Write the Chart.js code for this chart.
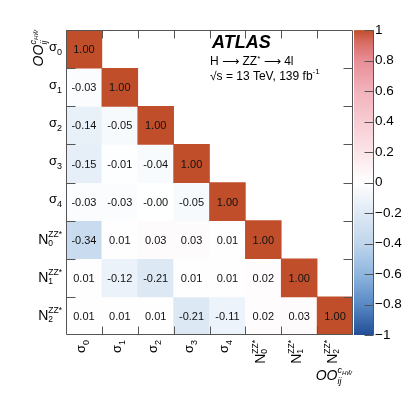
<!DOCTYPE html>
<html>
<head>
<meta charset="utf-8">
<script src="https://cdn.jsdelivr.net/npm/chart.js@4.4.1/dist/chart.umd.min.js"></script>
<style>
  body { margin: 0; background: #fff; }
</style>
</head>
<body>
<canvas id="chart" width="415" height="399"></canvas>
<script>
// parameter labels (same order on both axes, rows top to bottom)
var labelMain = ['σ', 'σ', 'σ', 'σ', 'σ', 'N', 'N', 'N'];
var labelSub = ['0', '1', '2', '3', '4', '0', '1', '2'];
var labelSup = ['', '', '', '', '', 'ZZ*', 'ZZ*', 'ZZ*'];

// lower triangle of the correlation matrix
var rowSigma0 = [1.00];
var rowSigma1 = [-0.03, 1.00];
var rowSigma2 = [-0.14, -0.05, 1.00];
var rowSigma3 = [-0.15, -0.01, -0.04, 1.00];
var rowSigma4 = [-0.03, -0.03, -0.004, -0.05, 1.00];
var rowN0 = [-0.34, 0.01, 0.03, 0.03, 0.01, 1.00];
var rowN1 = [0.01, -0.12, -0.21, 0.01, 0.01, 0.02, 1.00];
var rowN2 = [0.01, 0.01, 0.01, -0.21, -0.11, 0.02, 0.03, 1.00];
var rows = [rowSigma0, rowSigma1, rowSigma2, rowSigma3, rowSigma4, rowN0, rowN1, rowN2];

var FONT = "'Liberation Sans', Arial, Helvetica, sans-serif";

var stops = [
    [-1, [34, 78, 150]], [-0.8, [88, 137, 197]], [-0.6, [143, 182, 222]],
    [-0.4, [192, 214, 236]], [-0.2, [222, 233, 245]], [0, [255, 255, 255]],
    [0.2, [251, 228, 232]], [0.4, [247, 204, 211]], [0.6, [242, 178, 187]],
    [0.8, [232, 142, 150]], [0.92, [216, 108, 100]], [1, [192, 78, 42]]
];

function colorFor(v) {
    for (var k = 1; k < stops.length; k++) {
        if (v <= stops[k][0]) {
            var a = stops[k - 1], b = stops[k];
            var t = (v - a[0]) / (b[0] - a[0]);
            var c = a[1].map(function(x, n) { return Math.round(x + (b[1][n] - x) * t); });
            return 'rgb(' + c.join(',') + ')';
        }
    }
    return 'rgb(' + stops[stops.length - 1][1].join(',') + ')';
}

var n = rows.length;
var datasets = rows.map(function(row, i) {
    return {
        data: labelMain.map(function(m, j) { return j < row.length ? [n - 1 - i, n - i] : null; }),
        backgroundColor: function(ctx) { return colorFor(row[ctx.dataIndex]); },
        borderWidth: 0,
        grouped: false,
        barPercentage: 1,
        categoryPercentage: 1
    };
});

function fmtTick(v) {
    var r = Math.round(v * 10) / 10;
    if (r === 0) return '0';
    var s = Math.abs(r) === 1 ? '1' : Math.abs(r).toFixed(1);
    return r < 0 ? '\u2212' + s : s;
}

// main text with sub/superscript, baseline at (x, y)
function drawScript(ctx, x, y, main, sub, sup, o) {
    var st = o.italic ? 'italic ' : '';
    ctx.font = st + o.size + 'px ' + FONT;
    var mw = ctx.measureText(main).width;
    ctx.font = st + o.small + 'px ' + FONT;
    var sw = sub ? ctx.measureText(sub).width : 0;
    var pw = sup ? ctx.measureText(sup).width : 0;
    var x0 = o.align === 'right' ? x - mw - Math.max(sw, pw) : x;
    ctx.textAlign = 'left';
    ctx.textBaseline = 'alphabetic';
    ctx.font = st + o.size + 'px ' + FONT;
    ctx.fillText(main, x0, y);
    ctx.font = st + o.small + 'px ' + FONT;
    if (sub) ctx.fillText(sub, x0 + mw, y + o.subDy);
    if (sup) ctx.fillText(sup, x0 + mw, y + o.supDy);
}

function drawTitle(ctx, x, y) {
    // OO_ij^{c_HW~}, right aligned at x
    ctx.textAlign = 'left';
    ctx.textBaseline = 'alphabetic';
    ctx.font = 'italic 14px ' + FONT;
    var ow = ctx.measureText('OO').width;
    ctx.font = 'italic 9px ' + FONT;
    var cw = ctx.measureText('c').width;
    var iw = ctx.measureText('ij').width;
    ctx.font = 'italic 6px ' + FONT;
    var hw = ctx.measureText('HW\u0303').width;
    var x0 = x - ow - Math.max(iw, cw + hw);
    ctx.font = 'italic 14px ' + FONT;
    ctx.fillText('OO', x0, y);
    ctx.font = 'italic 9px ' + FONT;
    ctx.fillText('ij', x0 + ow, y + 4);
    ctx.fillText('c', x0 + ow, y - 7);
    ctx.font = 'italic 6px ' + FONT;
    ctx.fillText('HW\u0303', x0 + ow + cw, y - 5);
}

// run of text pieces [text, font, dy], left to right
function drawRun(ctx, x, y, pieces) {
    pieces.forEach(function(p) {
        ctx.font = p[1];
        ctx.fillText(p[0], x, y + (p[2] || 0));
        x += ctx.measureText(p[0]).width;
    });
}

var decorations = {
    id: 'decorations',
    afterDatasetsDraw: function(chart) {
        var ctx = chart.ctx;
        var xs = chart.scales.x, ys = chart.scales.y, zs = chart.scales.z;
        var area = chart.chartArea;

        // cell values
        ctx.save();
        ctx.fillStyle = '#111';
        ctx.font = '11px ' + FONT;
        ctx.textAlign = 'center';
        ctx.textBaseline = 'middle';
        rows.forEach(function(row, i) {
            var meta = chart.getDatasetMeta(i);
            row.forEach(function(v, j) {
                var el = meta.data[j];
                ctx.fillText(v.toFixed(2), el.x, (el.y + el.base) / 2 + 1);
            });
        });

        // frame and ticks
        var L = Math.round(area.left) + 0.5, R = Math.round(area.right) - 0.5;
        var T = Math.round(area.top) + 0.5, B = Math.round(area.bottom) - 0.5;
        ctx.strokeStyle = '#555';
        ctx.lineWidth = 1;
        ctx.beginPath();
        ctx.rect(L, T, R - L, B - T);
        for (var k = 1; k < n; k++) {
            var py = Math.round(ys.getPixelForValue(k)) + 0.5;
            ctx.moveTo(L, py); ctx.lineTo(L + 9, py);
            ctx.moveTo(R, py); ctx.lineTo(R - 9, py);
            var px = Math.round(xs.getPixelForValue(k - 0.5)) + 0.5;
            ctx.moveTo(px, T); ctx.lineTo(px, T + 8);
            ctx.moveTo(px, B); ctx.lineTo(px, B - 8);
        }
        ctx.stroke();

        // colour bar
        var c0 = area.right + 1, c1 = area.right + 20;
        var g = ctx.createLinearGradient(0, zs.getPixelForValue(1), 0, zs.getPixelForValue(-1));
        stops.forEach(function(s) { g.addColorStop((1 - s[0]) / 2, 'rgb(' + s[1].join(',') + ')'); });
        ctx.fillStyle = g;
        ctx.fillRect(c0, zs.getPixelForValue(1), c1 - c0, zs.getPixelForValue(-1) - zs.getPixelForValue(1));
        ctx.beginPath();
        var cx = Math.round(c1) + 0.5;
        ctx.moveTo(cx, zs.getPixelForValue(1)); ctx.lineTo(cx, zs.getPixelForValue(-1));
        zs.ticks.forEach(function(t) {
            var py = Math.round(zs.getPixelForValue(t.value)) + 0.5;
            ctx.moveTo(cx, py); ctx.lineTo(cx - 9, py);
        });
        ctx.stroke();

        // axis labels
        ctx.fillStyle = '#000';
        labelMain.forEach(function(m, i) {
            var sigma = m === 'σ';
            var o = { size: sigma ? 13 : 14, small: sigma ? 9 : 8.5, subDy: sigma ? 4 : 2, supDy: -7.5, align: 'right' };
            var cy = ys.getPixelForValue(n - 0.5 - i);
            drawScript(ctx, 62, cy + (sigma ? 1.5 : 4.5), m, labelSub[i], labelSup[i], o);

            var cxl = xs.getPixelForValue(i);
            ctx.save();
            ctx.translate(cxl + (sigma ? 1 : 2), area.bottom + 5);
            ctx.rotate(-Math.PI / 2);
            drawScript(ctx, 0, 0, m, labelSub[i], labelSup[i], o);
            ctx.restore();
        });

        // axis titles
        drawTitle(ctx, area.right - 1, area.bottom + 45);
        ctx.save();
        ctx.translate(43, area.top);
        ctx.rotate(-Math.PI / 2);
        drawTitle(ctx, 0, 0);
        ctx.restore();

        // ATLAS label
        ctx.textAlign = 'left';
        ctx.textBaseline = 'alphabetic';
        ctx.font = 'bold italic 18px ' + FONT;
        ctx.fillText('ATLAS', 212, 48);
        var f = '12px ' + FONT, fa = "12px 'DejaVu Sans'", fs = '8px ' + FONT;
        drawRun(ctx, 210, 65, [['H ', f], ['\u27F6', fa], [' ZZ', f], ['*', fs, -4], [' ', f], ['\u27F6', fa], [' 4l', f]]);
        drawRun(ctx, 210, 80, [['\u221As = 13 TeV, 139 fb', f], ['-1', fs, -6]]);
        ctx.restore();
    }
};

new Chart(document.getElementById('chart'), {
    type: 'bar',
    data: {
        labels: labelMain.map(function(m, i) { return m + labelSub[i]; }),
        datasets: datasets
    },
    options: {
        responsive: false,
        animation: false,
        layout: { padding: { left: 66, top: 20, right: 0, bottom: 64 } },
        plugins: { legend: { display: false }, tooltip: { enabled: false } },
        scales: {
            x: { display: false },
            y: { display: false, min: 0, max: 8 },
            z: {
                type: 'linear',
                position: 'right',
                min: -1,
                max: 1,
                afterFit: function(s) { s.width = 62; },
                grid: { display: false, drawTicks: false },
                border: { display: false },
                ticks: {
                    stepSize: 0.2,
                    padding: 22,
                    color: '#000',
                    font: { family: FONT, size: 13.5 },
                    callback: fmtTick
                }
            }
        }
    },
    plugins: [decorations]
});
</script>
</body>
</html>
